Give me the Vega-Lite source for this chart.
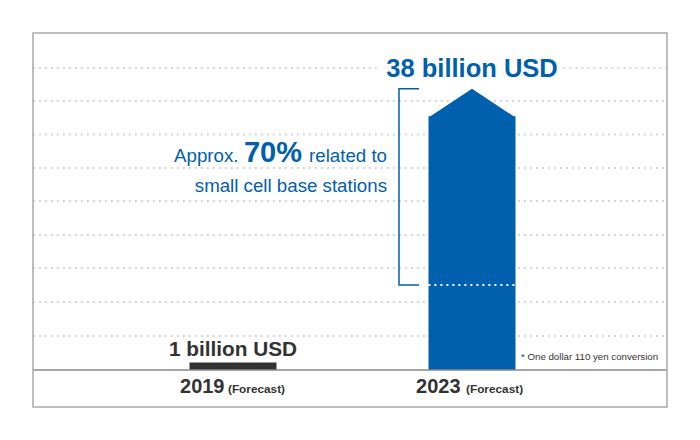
{"$schema":"https://vega.github.io/schema/vega-lite/v6.json","width":700,"height":440,"padding":0,"autosize":{"type":"fit","contains":"padding"},"background":"white","config":{"view":{"stroke":null},"text":{"font":"Liberation Sans"}},
"datasets":{
"bars":[{"year":2019,"value":1,"body":1},{"year":2023,"value":38,"body":34.3}],
"one":[{"k":1}],
"grid":[{"y":40.81,"from":2015.65,"to":2021.45},{"y":40.81,"from":2024.53,"to":2026.26},{"y":36.35,"from":2015.65,"to":2022.715},{"y":36.35,"from":2023.268,"to":2026.26},{"y":31.82,"from":2015.65,"to":2022.247},{"y":31.82,"from":2023.77,"to":2026.26},{"y":27.3,"from":2015.65,"to":2022.213},{"y":27.3,"from":2023.77,"to":2026.26},{"y":22.84,"from":2015.65,"to":2022.213},{"y":22.84,"from":2023.77,"to":2026.26},{"y":18.24,"from":2015.65,"to":2022.213},{"y":18.24,"from":2023.77,"to":2026.26},{"y":13.78,"from":2015.65,"to":2022.213},{"y":13.78,"from":2023.77,"to":2026.26},{"y":9.19,"from":2015.65,"to":2022.213},{"y":9.19,"from":2023.77,"to":2026.26},{"y":4.59,"from":2015.65,"to":2022.213},{"y":4.59,"from":2023.77,"to":2026.26}],
"bracket":[{"o":1,"x":2022.113,"y":38},{"o":2,"x":2021.778,"y":38},{"o":3,"x":2021.778,"y":11.5},{"o":4,"x":2022.113,"y":11.5}],
"boldLeft":[
{"t":"2019","x":2018.113,"y":-3.11,"s":20,"c":"#333333"},
{"t":"(Forecast)","x":2018.916,"y":-3.11,"s":11.8,"c":"#333333"},
{"t":"2023","x":2022.063,"y":-3.11,"s":20,"c":"#333333"},
{"t":"(Forecast)","x":2022.9,"y":-3.11,"s":11.8,"c":"#333333"},
{"t":"70%","x":2019.184,"y":28.1,"s":29,"c":"#0060ae"}],
"boldCenter":[
{"t":"38 billion USD","x":2023,"y":39.6,"s":25.5,"c":"#0060ae"},
{"t":"1 billion USD","x":2019,"y":1.89,"s":20.8,"c":"#333333"}],
"plainLeft":[
{"t":"Approx.","x":2018.013,"y":28.1,"s":18.7,"c":"#0060ae"},
{"t":"* One dollar 110 yen conversion","x":2023.82,"y":1.35,"s":9.7,"c":"#333333"}],
"plainRight":[
{"t":"related to","x":2021.577,"y":28.1,"s":18.7,"c":"#0060ae"},
{"t":"small cell base stations","x":2021.577,"y":24.05,"s":18.7,"c":"#0060ae"}]
},
"layer":[
{"data":{"name":"grid"},"mark":{"type":"rule","stroke":"#d6d6d6","strokeWidth":2,"strokeDash":[2,4]},"encoding":{"x":{"field":"from","type":"quantitative","scale":{"domain":[2015.1004,2026.8159],"nice":false,"zero":false,"padding":0},"axis":null},"x2":{"field":"to"},"y":{"field":"y","type":"quantitative","scale":{"domain":[-9.4595,50],"nice":false,"zero":false},"axis":null}}},
{"data":{"name":"bars"},"mark":{"type":"bar","size":87,"orient":"vertical"},"encoding":{"x":{"field":"year","type":"quantitative"},"y":{"field":"body","type":"quantitative"},"y2":{"datum":0},"color":{"field":"year","type":"nominal","scale":{"domain":[2019,2023],"range":["#333333","#0060ae"]},"legend":null}}},
{"data":{"name":"bars"},"transform":[{"filter":"datum.year===2023"}],"mark":{"type":"point","filled":true,"opacity":1,"fill":"#0060ae","strokeWidth":0,"size":7569,"shape":"M0,0L1,0.66L-1,0.66Z"},"encoding":{"x":{"field":"year","type":"quantitative"},"y":{"field":"value","type":"quantitative"}}},
{"data":{"name":"one"},"mark":{"type":"rule","stroke":"white","strokeWidth":2,"strokeDash":[2,4]},"encoding":{"x":{"datum":2022.27},"x2":{"datum":2023.73},"y":{"datum":11.5}}},
{"data":{"name":"bracket"},"mark":{"type":"line","stroke":"#0060ae","strokeWidth":1.5,"interpolate":"linear"},"encoding":{"x":{"field":"x","type":"quantitative"},"y":{"field":"y","type":"quantitative"},"order":{"field":"o"}}},
{"data":{"name":"one"},"mark":{"type":"rule","stroke":"#888888","strokeWidth":1.5},"encoding":{"x":{"datum":2015.6527},"x2":{"datum":2026.2636},"y":{"datum":0}}},
{"data":{"name":"one"},"mark":{"type":"rect","fill":null,"stroke":"#aaaaaa","strokeWidth":1.5},"encoding":{"x":{"datum":2015.6527},"x2":{"datum":2026.2636},"y":{"datum":-5},"y2":{"datum":45.54}}},
{"data":{"name":"boldLeft"},"mark":{"type":"text","baseline":"alphabetic","align":"left","fontWeight":"bold"},"encoding":{"x":{"field":"x","type":"quantitative"},"y":{"field":"y","type":"quantitative"},"text":{"field":"t"},"size":{"field":"s","type":"quantitative","scale":null},"color":{"field":"c","type":"nominal","scale":null}}},
{"data":{"name":"boldCenter"},"mark":{"type":"text","baseline":"alphabetic","align":"center","fontWeight":"bold"},"encoding":{"x":{"field":"x","type":"quantitative"},"y":{"field":"y","type":"quantitative"},"text":{"field":"t"},"size":{"field":"s","type":"quantitative","scale":null},"color":{"field":"c","type":"nominal","scale":null}}},
{"data":{"name":"plainLeft"},"mark":{"type":"text","baseline":"alphabetic","align":"left"},"encoding":{"x":{"field":"x","type":"quantitative"},"y":{"field":"y","type":"quantitative"},"text":{"field":"t"},"size":{"field":"s","type":"quantitative","scale":null},"color":{"field":"c","type":"nominal","scale":null}}},
{"data":{"name":"plainRight"},"mark":{"type":"text","baseline":"alphabetic","align":"right"},"encoding":{"x":{"field":"x","type":"quantitative"},"y":{"field":"y","type":"quantitative"},"text":{"field":"t"},"size":{"field":"s","type":"quantitative","scale":null},"color":{"field":"c","type":"nominal","scale":null}}}
]}
